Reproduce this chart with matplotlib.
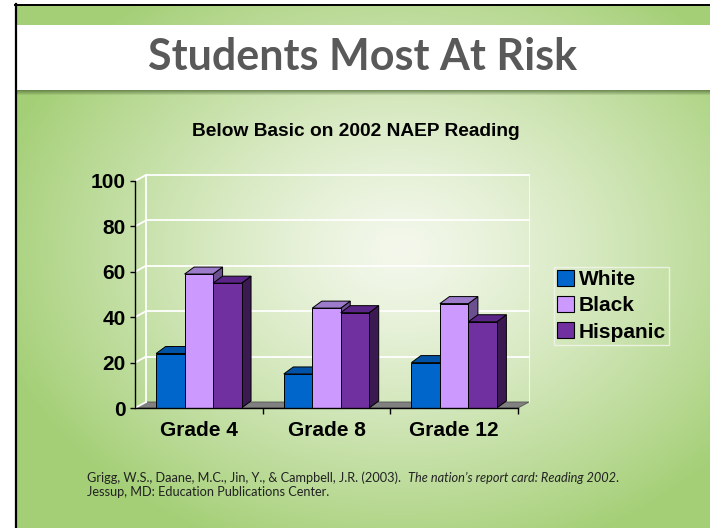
import numpy as np
import matplotlib
matplotlib.use('Agg')
import matplotlib.pyplot as plt
from matplotlib.patches import Polygon, Rectangle, Patch

categories = ['Grade 4', 'Grade 8', 'Grade 12']
series = ['White', 'Black', 'Hispanic']
white = [24, 15, 20]
black = [59, 44, 46]
hispanic = [55, 42, 38]
values = [white, black, hispanic]
yticks = [0, 20, 40, 60, 80, 100]

front_c = ['#0066CC', '#CC99FF', '#7030A0']
top_c = ['#0052A6', '#9C7BCB', '#5A2586']
side_c = ['#003E7E', '#6B4F8F', '#3B1A52']

W, H = 710, 528
fig = plt.figure(figsize=(W / 100, H / 100), dpi=100)

# ---------- slide background ----------
bg = fig.add_axes([0, 0, 1, 1])
bg.set_xlim(0, W)
bg.set_ylim(H, 0)
bg.axis('off')
yy, xx = np.mgrid[0:H, 0:W]
r = np.sqrt(((xx - 400) / 420.0) ** 2 + ((yy - 250) / 320.0) ** 2)
t = np.clip(r, 0, 1) ** 1.25
c0 = np.array([0xF4, 0xF8, 0xEC]) / 255.0
c1 = np.array([0xA4, 0xCF, 0x76]) / 255.0
img = c0 + (c1 - c0) * t[..., None]
bg.imshow(img, extent=(0, W, H, 0), aspect='auto', interpolation='bilinear', zorder=0)
bg.add_patch(Rectangle((0, 0), 15, H, facecolor='white', edgecolor='none', zorder=1))
bg.add_patch(Rectangle((0, 0), W, 4, facecolor='white', edgecolor='none', zorder=1))
bg.plot([15.5, 15.5], [4, H], color='black', lw=1.6, zorder=2)
bg.plot([15, W], [4.8, 4.8], color='black', lw=1.4, zorder=2)
# top band (white)
bg.add_patch(Rectangle((16, 25), W - 16, 65, facecolor='white', edgecolor='none', zorder=1))
# shadow under band
sh = np.zeros((6, 2, 4))
sh[..., 0] = 0.35; sh[..., 1] = 0.45; sh[..., 2] = 0.25
sh[:, :, 3] = np.linspace(0.75, 0.0, 6)[:, None]
bg.imshow(sh, extent=(16, W, 96, 90), aspect='auto', interpolation='bilinear', zorder=1)

fig.text(363 / W, 1 - 57 / H, 'Students Most At Risk', ha='center', va='center',
         fontsize=31, fontweight='bold', family='Lato', color='#595959')

# ---------- chart ----------
ax = fig.add_axes([135 / W, (H - 408) / H, (518 - 135) / W, (408 - 181) / H])
ax.set_facecolor('none')
ax.set_xlim(-0.5, 2.5)
ax.set_ylim(0, 100)
pos = ax.get_position()
px_x = pos.width * W / 3.0
px_y = pos.height * H / 100.0
dxw, dyw = 11 / px_x, 6 / px_y
dxb, dyb = 9.5 / px_x, 7 / px_y

# floor
ax.add_patch(Polygon([(-0.5, 0), (2.5, 0), (2.5 + dxw, dyw), (-0.5 + dxw, dyw)],
                     closed=True, facecolor='#808080', edgecolor='#555555', lw=0.6,
                     clip_on=False, zorder=1))
# back wall grid + side wall lines
for v in yticks:
    if v > 0:
        ax.plot([-0.5 + dxw, 2.5 + dxw], [v + dyw, v + dyw], color='white', lw=1.3,
                clip_on=False, zorder=1)
    ax.plot([-0.5, -0.5 + dxw], [v, v + dyw], color='white', lw=1.3, clip_on=False, zorder=1)
ax.plot([-0.5 + dxw, -0.5 + dxw], [dyw, 100 + dyw], color='white', lw=1.3, clip_on=False, zorder=1)
ax.plot([2.5 + dxw, 2.5 + dxw], [dyw, 100 + dyw], color='white', lw=0.8, alpha=0.7,
        clip_on=False, zorder=1)

bw = 0.223
z = 3
for i in range(len(categories)):
    for j in range(len(series)):
        v = values[j][i]
        x0 = i + (j - 1) * bw - bw / 2
        x1 = x0 + bw
        ax.add_patch(Polygon([(x1, 0), (x1 + dxb, dyb), (x1 + dxb, v + dyb), (x1, v)],
                             closed=True, facecolor=side_c[j], edgecolor='black', lw=0.7,
                             clip_on=False, zorder=z))
        ax.add_patch(Polygon([(x0, v), (x1, v), (x1 + dxb, v + dyb), (x0 + dxb, v + dyb)],
                             closed=True, facecolor=top_c[j], edgecolor='black', lw=0.7,
                             clip_on=False, zorder=z))
        ax.bar(x1 - bw / 2, v, width=bw, color=front_c[j], edgecolor='black', lw=0.7,
               zorder=z + 0.5)
        z += 1

for s in ['top', 'right']:
    ax.spines[s].set_visible(False)
for s in ['left', 'bottom']:
    ax.spines[s].set_color('black')
    ax.spines[s].set_linewidth(1.0)
    ax.spines[s].set_zorder(20)

lab_font = dict(family='Liberation Sans', weight='bold', size=15)
ax.set_yticks(yticks)
ax.set_yticklabels([str(v) for v in yticks], fontdict=lab_font)
ax.tick_params(axis='y', direction='out', length=3.5, width=1, pad=3)
ax.set_xticks(range(len(categories)))
ax.set_xticklabels(categories, fontdict=lab_font)
ax.tick_params(axis='x', which='major', length=0, pad=9)
ax.set_xticks([0.5, 1.5, 2.5], minor=True)
ax.tick_params(axis='x', which='minor', direction='out', length=4, width=1)

handles = [Patch(facecolor=front_c[j], edgecolor='black', lw=0.8) for j in range(3)]
leg = fig.legend(handles, series, loc='upper left', bbox_to_anchor=(554 / W, 1 - 267 / H),
                 bbox_transform=fig.transFigure, frameon=True, fancybox=False,
                 facecolor='none', edgecolor='#f4f7ee', borderpad=0.15,
                 handlelength=0.8, handleheight=0.8, handletextpad=0.25,
                 labelspacing=0.33, borderaxespad=0,
                 prop=dict(family='Liberation Sans', weight='bold', size=15))
leg.get_frame().set_linewidth(1.0)

fig.text(355.5 / W, 1 - 131 / H, 'Below Basic on 2002 NAEP Reading', ha='center', va='center',
         family='Liberation Sans', weight='bold', size=13.8, color='black')

# ---------- citation ----------
fs = 9.2
t1 = fig.text(87 / W, 1 - 478 / H, 'Grigg, W.S., Daane, M.C., Jin, Y., & Campbell, J.R. (2003).  ',
              ha='left', va='center', family='Lato', size=fs, color='#222222')
fig.canvas.draw()
r = fig.canvas.get_renderer()
bb = t1.get_window_extent(renderer=r)
t2 = fig.text(bb.x1 / W, 1 - 478 / H, 'The nation\u2019s report card: Reading 2002',
              ha='left', va='center', family='Lato', style='italic', size=fs, color='#222222')
bb2 = t2.get_window_extent(renderer=r)
fig.text(bb2.x1 / W, 1 - 478 / H, '.', ha='left', va='center', family='Lato', size=fs, color='#222222')
fig.text(87 / W, 1 - 492 / H, 'Jessup, MD: Education Publications Center.', ha='left', va='center',
         family='Lato', size=fs, color='#222222')

fig.savefig('out.png', dpi=100)
